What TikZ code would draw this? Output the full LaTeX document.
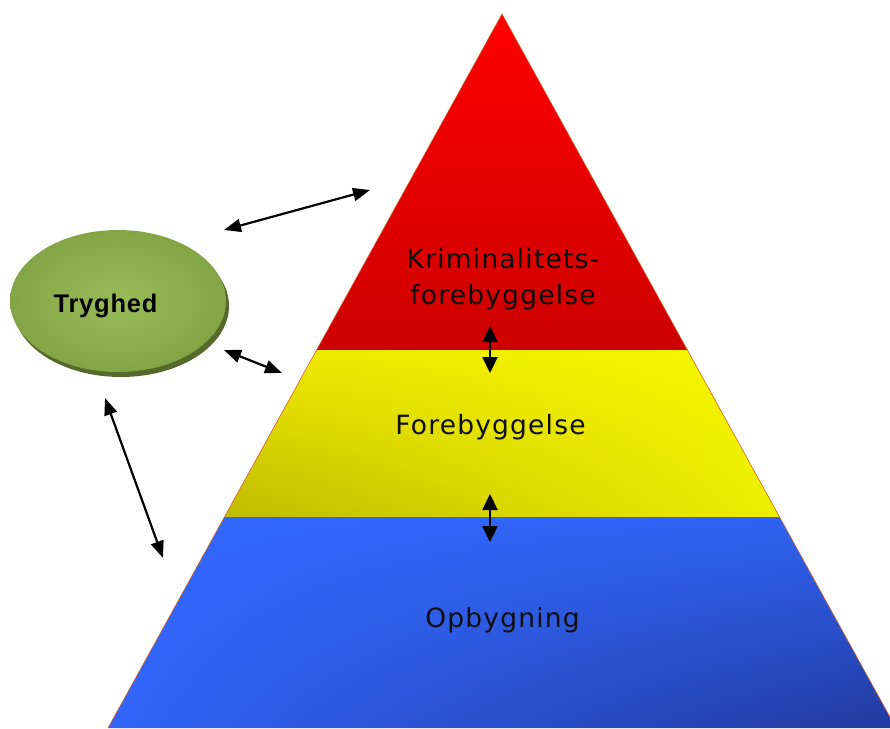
\documentclass[tikz,border=0pt]{standalone}
\usepackage{fontspec}
\usetikzlibrary{arrows.meta,shadings}
\newfontfamily\pyrfont[LetterSpace=4.5]{DejaVu Sans}
\newfontfamily\tryfont[LetterSpace=3]{Liberation Sans}
\definecolor{redtop}{RGB}{255,0,0}
\definecolor{redbot}{RGB}{205,0,0}
\definecolor{yelUL}{RGB}{236,232,0}
\definecolor{yelUR}{RGB}{248,248,0}
\definecolor{yelLL}{RGB}{192,186,0}
\definecolor{yelLR}{RGB}{238,238,0}
\definecolor{bluUL}{RGB}{50,104,255}
\definecolor{bluUR}{RGB}{48,98,240}
\definecolor{bluLL}{RGB}{50,100,248}
\definecolor{bluLR}{RGB}{33,58,158}
\definecolor{ellin}{RGB}{152,188,88}
\definecolor{ellout}{RGB}{112,142,52}
\definecolor{ellshadow}{RGB}{84,106,44}
\definecolor{edgecol}{RGB}{215,95,40}
\definecolor{txtcol}{RGB}{15,15,15}
\pgfdeclareradialshading{ellshade}{\pgfpoint{0bp}{0bp}}{color(0bp)=(ellin); color(50bp)=(ellout)}
\tikzset{
  dblarrow/.style={{Triangle[length=17pt,width=13pt]}-{Triangle[length=17pt,width=13pt]}, line width=2.2pt, black},
  vdblarrow/.style={{Triangle[length=16pt,width=15pt]}-{Triangle[length=16pt,width=15pt]}, line width=2.2pt, black},
  pyrlabel/.style={font=\pyrfont\fontsize{26.5}{32}\selectfont, text=txtcol, anchor=base, inner sep=0pt},
}
\begin{document}
\begin{tikzpicture}[x=1pt,y=-1pt]
\useasboundingbox (0,0) rectangle (890,728);
\begin{scope}
\clip (0,0) rectangle (890,728);
% pyramid sections
\shade[top color=redtop, bottom color=redbot] (502,14) -- (687.4,350) -- (316.6,350) -- cycle;
\shade[upper left=yelUL, upper right=yelUR, lower left=yelLL, lower right=yelLR]
  (316.6,350) -- (687.4,350) -- (779.6,517) -- (224.4,517) -- cycle;
\shade[upper left=bluUL, upper right=bluUR, lower left=bluLL, lower right=bluLR]
  (224.4,517) -- (779.6,517) -- (896,728) -- (108,728) -- cycle;
\draw[edgecol, line width=0.6pt] (108,728) -- (502,14) -- (896,728);
\end{scope}
% ellipse
\fill[ellshadow] (121,306) ellipse [x radius=108, y radius=71];
\shade[shading=ellshade] (118,301) ellipse [x radius=108, y radius=71];
\node[font=\tryfont\bfseries\fontsize{25.5}{30}\selectfont, text=black, anchor=base, inner sep=0pt] (tryghed) at (105.5,312.5) {Tryghed};
% labels
\node[pyrlabel] (krim1) at (503,268) {Kriminalitets-};
\node[pyrlabel] (krim2) at (503,304) {forebyggelse};
\node[pyrlabel] (fore) at (490.5,434) {Forebyggelse};
\node[pyrlabel] (opb) at (502.5,627) {Opbygning};
% arrow end points
\coordinate (a1s) at (224,230);
\coordinate (a1e) at (370,190);
\coordinate (a2s) at (224,350);
\coordinate (a2e) at (282,373);
\coordinate (a3s) at (105,398);
\coordinate (a3e) at (163,558);
\coordinate (v1s) at (490,326);
\coordinate (v1e) at (490,373);
\coordinate (v2s) at (490,494);
\coordinate (v2e) at (490,542);
\draw[dblarrow] (a1s) -- (a1e);
\draw[dblarrow] (a2s) -- (a2e);
\draw[dblarrow] (a3s) -- (a3e);
\draw[vdblarrow] (v1s) -- (v1e);
\draw[vdblarrow] (v2s) -- (v2e);
\end{tikzpicture}
\end{document}
